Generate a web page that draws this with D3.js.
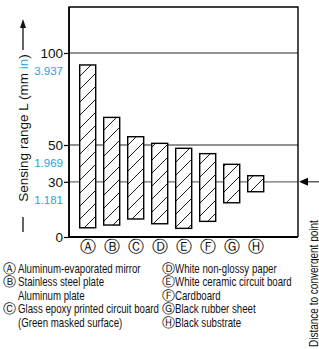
<!DOCTYPE html>
<html><head><meta charset="utf-8">
<script src="https://cdn.jsdelivr.net/npm/d3@7"></script>
<style>
html,body{margin:0;padding:0;background:#fff;}
svg{display:block;}
</style>
</head><body>
<svg id="c" width="319" height="349"></svg>
<script>
const categories = ["A","B","C","D","E","F","G","H"];
const circled = ["Ⓐ","Ⓑ","Ⓒ","Ⓓ","Ⓔ","Ⓕ","Ⓖ","Ⓗ"];
const rangeLow  = [5, 6.5, 9.8, 7.2, 4.7, 8.5, 18.6, 24.6];
const rangeHigh = [93.5, 65, 54.5, 50.9, 48.2, 45.3, 39.5, 33.3];
const mmTicks = [0, 30, 50, 100];
const inchLabels = {30:"1.181", 50:"1.969", 100:"3.937"};
const gridValues = [30, 50, 100];
const legendLeft = [["Ⓐ","Aluminum-evaporated mirror"],["Ⓑ","Stainless steel plate"],["","Aluminum plate"],["Ⓒ","Glass epoxy printed circuit board"],["","(Green masked surface)"]];
const legendRight = [["Ⓓ","White non-glossy paper"],["Ⓔ","White ceramic circuit board"],["Ⓕ","Cardboard"],["Ⓖ","Black rubber sheet"],["Ⓗ","Black substrate"]];

const FONT = "Liberation Sans, Arial, sans-serif";
const svg = d3.select("#c");
const L = 69, R = 298, T = 7, B = 237;
const y = d3.scaleLinear().domain([0,125]).range([B,T]);
const x = d3.scaleBand().domain(categories).range([75.7, 267.7]).paddingInner(1/3).paddingOuter(1/6);

const defs = svg.append("defs");
const pat = defs.append("pattern").attr("id","hatch").attr("patternUnits","userSpaceOnUse")
  .attr("width",13).attr("height",13);
pat.append("path").attr("d","M-1,1 L1,-1 M0,13 L13,0 M12,14 L14,12")
  .attr("stroke","#000").attr("stroke-width",0.9);

// grid lines
svg.append("g").selectAll("line").data(gridValues).join("line")
  .attr("x1",L).attr("x2",R).attr("y1",d=>y(d)).attr("y2",d=>y(d))
  .attr("stroke","#6e6e6e").attr("stroke-width",1.3);
// arrow at 30 outside
svg.append("line").attr("x1",319).attr("x2",308).attr("y1",y(30)).attr("y2",y(30))
  .attr("stroke","#444").attr("stroke-width",1.3);
svg.append("path").attr("d",`M${R+1},${y(30)} L${R+10},${y(30)-4} L${R+10},${y(30)+4} Z`).attr("fill","#000");

// bars
const bars = svg.append("g").selectAll("g").data(categories).join("g");
bars.append("rect").attr("x",d=>x(d)).attr("width",x.bandwidth())
  .attr("y",(d,i)=>y(rangeHigh[i])).attr("height",(d,i)=>y(rangeLow[i])-y(rangeHigh[i]))
  .attr("fill","#fff");
bars.append("rect").attr("x",d=>x(d)).attr("width",x.bandwidth())
  .attr("y",(d,i)=>y(rangeHigh[i])).attr("height",(d,i)=>y(rangeLow[i])-y(rangeHigh[i]))
  .attr("fill","url(#hatch)").attr("stroke","#000").attr("stroke-width",1.4);

// frame
svg.append("path").attr("d",`M${L},${B} L${L},${T} L${R},${T} L${R},${B}`).attr("fill","none")
  .attr("stroke","#000").attr("stroke-width",1.4);

// axis
const ax = svg.append("g").attr("transform",`translate(${L},0)`)
  .call(d3.axisLeft(y).tickValues(mmTicks).tickSize(5).tickSizeOuter(0).tickFormat(d3.format("d")));
ax.select(".domain").remove();
ax.selectAll(".tick line").attr("stroke","#000").attr("stroke-width",1.2);
ax.selectAll(".tick text").attr("font-family",FONT).attr("font-size",13.5)
  .attr("fill","#111").attr("x",-6).attr("dy","0.36em");
svg.append("line").attr("x1",L).attr("x2",R).attr("y1",B).attr("y2",B).attr("stroke","#000").attr("stroke-width",2);
svg.append("line").attr("x1",L).attr("x2",L).attr("y1",T).attr("y2",B).attr("stroke","#000").attr("stroke-width",1.6);

svg.append("g").selectAll("text").data(gridValues).join("text")
  .attr("x",L-6).attr("y",d=>y(d)+18).attr("dy","0.36em").attr("text-anchor","end")
  .attr("font-family",FONT).attr("font-size",11.5).attr("fill","#29a3dc")
  .text(d=>inchLabels[d]);

// circled letters under bars
svg.append("g").selectAll("text").data(categories).join("text")
  .attr("x",d=>x(d)+x.bandwidth()/2).attr("y",246).attr("dy","0.36em").attr("text-anchor","middle")
  .attr("font-family","DejaVu Sans, sans-serif").attr("font-size",16).attr("fill","#111")
  .text((d,i)=>circled[i]);

// y label
const yl = svg.append("g").attr("transform","translate(23,128) rotate(-90)");
const ylt = yl.append("text").attr("text-anchor","middle").attr("dy","0.36em")
  .attr("font-family",FONT).attr("font-size",13.5).attr("fill","#111");
ylt.append("tspan").text("Sensing range L (mm ");
ylt.append("tspan").attr("fill","#29a3dc").text("in");
ylt.append("tspan").text(")");
svg.append("line").attr("x1",23).attr("x2",23).attr("y1",217).attr("y2",232).attr("stroke","#111").attr("stroke-width",1.3);
svg.append("line").attr("x1",23).attr("x2",23).attr("y1",26).attr("y2",50).attr("stroke","#111").attr("stroke-width",1.3);
svg.append("path").attr("d","M23,19 L20,28 L26,28 Z").attr("fill","#111");

// narrow text helper: horizontally condensed
function narrowText(g, x0, y0, str, size, k){
  return g.append("text").attr("transform",`translate(${x0},${y0}) scale(${k},1)`)
    .attr("dy","0.36em").attr("font-family",FONT).attr("font-size",size).attr("fill","#111").text(str);
}
const LEG_SIZE = 13;
const probe = svg.append("text").attr("font-family",FONT).attr("font-size",LEG_SIZE).text("Glass epoxy printed circuit board");
const kLeg = 141 / probe.node().getComputedTextLength();
probe.remove();

// right rotated label
const rg = svg.append("g").attr("transform","translate(313,347) rotate(-90)");
const rt = narrowText(rg, 0, 0, "Distance to convergent point", 13, 1);
const kR = 127 / rt.node().getComputedTextLength();
rt.attr("transform",`scale(${kR},1)`);

// legends
function legend(items, xc, xt){
  const g = svg.append("g");
  items.forEach((it,i)=>{
    const yy = 268 + i*13.6;
    if (it[0]) g.append("text").attr("x",xc).attr("y",yy).attr("dy","0.36em")
      .attr("font-family","DejaVu Sans, sans-serif").attr("font-size",12.5).attr("fill","#111").text(it[0]);
    narrowText(g, xt, yy, it[1], LEG_SIZE, kLeg);
  });
}
legend(legendLeft, 3, 18);
legend(legendRight, 162, 175);
</script>
</body></html>
